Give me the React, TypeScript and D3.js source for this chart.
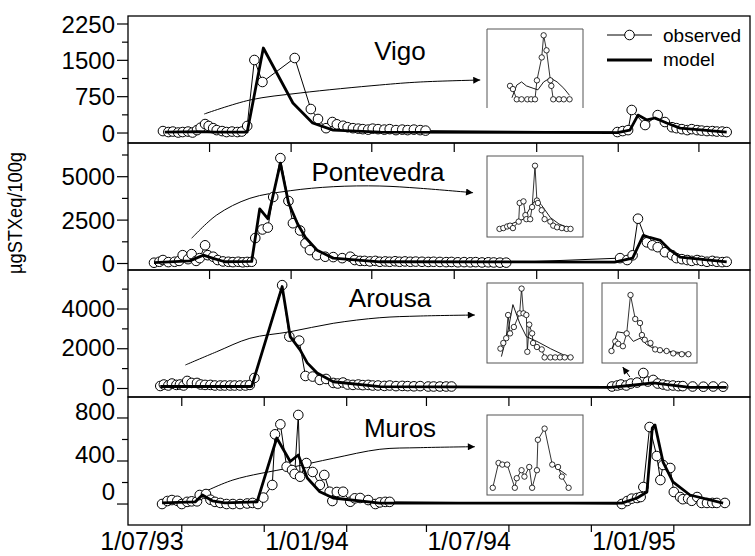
import React, { useEffect, useRef } from 'react';
import * as d3 from 'd3';

type Obs = [string, number];
type Rel = [number, number];

// ---- data (dates of sampling, µgSTXeq/100g) ----
const vigoObserved: Obs[] = [
  ['1993-07-11', 40], ['1993-07-17', 20], ['1993-07-22', 30], ['1993-07-28', 10], ['1993-08-02', 20],
  ['1993-08-08', 30], ['1993-08-13', 10], ['1993-08-18', 60], ['1993-08-22', 110], ['1993-08-27', 185],
  ['1993-08-31', 145], ['1993-09-05', 100], ['1993-09-09', 60], ['1993-09-15', 40], ['1993-09-20', 20],
  ['1993-09-26', 30], ['1993-10-02', 20], ['1993-10-07', 30], ['1993-10-13', 145], ['1993-10-21', 1507],
  ['1993-10-30', 1053], ['1993-12-05', 1548], ['1993-12-23', 495], ['1993-12-31', 290], ['1994-01-09', 100],
  ['1994-01-16', 227], ['1994-01-21', 180], ['1994-01-28', 150], ['1994-02-02', 120], ['1994-02-08', 100],
  ['1994-02-14', 90], ['1994-02-19', 80], ['1994-02-25', 70], ['1994-03-02', 90], ['1994-03-08', 80],
  ['1994-03-15', 70], ['1994-03-21', 80], ['1994-03-28', 60], ['1994-04-04', 70], ['1994-04-10', 60],
  ['1994-04-17', 70], ['1994-04-24', 60], ['1994-04-30', 50],
  ['1994-11-30', 20], ['1994-12-06', 40], ['1994-12-12', 60], ['1994-12-16', 475], ['1994-12-31', 165],
  ['1995-01-14', 370], ['1995-01-22', 227], ['1995-01-30', 120], ['1995-02-04', 100], ['1995-02-10', 80],
  ['1995-02-16', 60], ['1995-02-21', 80], ['1995-02-27', 60], ['1995-03-04', 50], ['1995-03-10', 40],
  ['1995-03-16', 40], ['1995-03-21', 30], ['1995-03-27', 30], ['1995-04-01', 20],
];
const vigoModel: Obs[] = [
  ['1993-07-13', 20], ['1993-08-21', 30], ['1993-09-07', 20], ['1993-10-13', 20], ['1993-10-31', 1754],
  ['1993-12-03', 620], ['1993-12-25', 206], ['1994-01-17', 60], ['1994-03-10', 20], ['1994-11-30', 10],
  ['1994-12-14', 60], ['1994-12-23', 370], ['1995-01-02', 270], ['1995-01-11', 310], ['1995-01-24', 206],
  ['1995-02-08', 100], ['1995-04-01', 20],
];

const pontevedraObserved: Obs[] = [
  ['1993-07-01', 45], ['1993-07-07', 100], ['1993-07-11', 200], ['1993-07-17', 80], ['1993-07-24', 100],
  ['1993-07-29', 150], ['1993-08-02', 480], ['1993-08-08', 250], ['1993-08-12', 540], ['1993-08-17', 150],
  ['1993-08-21', 310], ['1993-08-27', 1050], ['1993-08-30', 480], ['1993-09-05', 390], ['1993-09-10', 200],
  ['1993-09-16', 120], ['1993-09-22', 100], ['1993-09-27', 80], ['1993-10-03', 100], ['1993-10-08', 70],
  ['1993-10-13', 90], ['1993-10-18', 100], ['1993-10-22', 1466], ['1993-10-30', 1960], ['1993-11-05', 2070],
  ['1993-11-11', 3830], ['1993-11-19', 6070], ['1993-11-28', 3600], ['1993-12-03', 2320], ['1993-12-11', 1900],
  ['1993-12-17', 1160], ['1993-12-22', 770], ['1993-12-30', 480], ['1994-01-08', 390], ['1994-01-17', 370],
  ['1994-01-27', 310], ['1994-02-05', 390], ['1994-02-10', 200], ['1994-02-16', 150], ['1994-02-21', 150],
  ['1994-02-27', 120], ['1994-03-05', 150], ['1994-03-10', 100], ['1994-03-16', 120], ['1994-03-21', 100],
  ['1994-03-27', 130], ['1994-04-01', 100], ['1994-04-07', 120], ['1994-04-13', 100], ['1994-04-19', 110],
  ['1994-04-26', 100], ['1994-05-03', 90], ['1994-05-09', 100], ['1994-05-16', 90], ['1994-05-23', 80],
  ['1994-05-29', 90], ['1994-06-05', 70], ['1994-06-12', 80], ['1994-06-19', 70], ['1994-06-25', 80],
  ['1994-07-02', 60], ['1994-07-09', 70], ['1994-07-15', 60], ['1994-07-22', 50], ['1994-07-29', 50],
  ['1994-12-03', 310], ['1994-12-11', 200], ['1994-12-17', 470], ['1994-12-23', 2580], ['1995-01-02', 1220],
  ['1995-01-08', 1050], ['1995-01-14', 940], ['1995-01-22', 650], ['1995-01-30', 480], ['1995-02-04', 310],
  ['1995-02-10', 250], ['1995-02-16', 200], ['1995-02-21', 150], ['1995-02-27', 200], ['1995-03-04', 150],
  ['1995-03-10', 100], ['1995-03-16', 150], ['1995-03-21', 100], ['1995-03-27', 80], ['1995-04-01', 100],
];
const pontevedraModel: Obs[] = [
  ['1993-07-01', 50], ['1993-08-10', 150], ['1993-08-25', 480], ['1993-09-05', 300], ['1993-09-18', 100],
  ['1993-10-18', 120], ['1993-10-27', 3150], ['1993-11-05', 2580], ['1993-11-19', 5780], ['1993-11-28', 3510],
  ['1993-12-08', 2300], ['1993-12-17', 1500], ['1993-12-30', 770], ['1994-01-17', 310], ['1994-03-10', 100],
  ['1994-11-27', 80], ['1994-12-03', 150], ['1994-12-17', 310], ['1994-12-29', 1620], ['1995-01-05', 1500],
  ['1995-01-17', 1330], ['1995-01-28', 770], ['1995-02-08', 370], ['1995-04-01', 100],
];

const arousaObserved: Obs[] = [
  ['1993-07-08', 126], ['1993-07-12', 200], ['1993-07-17', 150], ['1993-07-21', 250], ['1993-07-26', 180],
  ['1993-07-30', 200], ['1993-08-03', 150], ['1993-08-07', 380], ['1993-08-12', 280], ['1993-08-18', 280],
  ['1993-08-22', 200], ['1993-08-27', 180], ['1993-09-02', 180], ['1993-09-07', 150], ['1993-09-13', 150],
  ['1993-09-18', 150], ['1993-09-24', 150], ['1993-09-29', 150], ['1993-10-05', 150], ['1993-10-11', 150],
  ['1993-10-16', 180], ['1993-10-21', 530], ['1993-11-21', 5200], ['1993-11-29', 2610], ['1993-12-10', 2410],
  ['1993-12-17', 630], ['1993-12-25', 600], ['1994-01-02', 430], ['1994-01-09', 480], ['1994-01-17', 280],
  ['1994-01-22', 250], ['1994-01-28', 300], ['1994-02-02', 200], ['1994-02-08', 180], ['1994-02-14', 200],
  ['1994-02-19', 170], ['1994-02-25', 180], ['1994-03-02', 150], ['1994-03-08', 150], ['1994-03-15', 130],
  ['1994-03-21', 150], ['1994-03-28', 120], ['1994-04-04', 130], ['1994-04-10', 120], ['1994-04-17', 110],
  ['1994-04-24', 120], ['1994-05-03', 100], ['1994-05-09', 100], ['1994-05-16', 100], ['1994-05-23', 100],
  ['1994-05-29', 100],
  ['1994-11-24', 100], ['1994-11-30', 150], ['1994-12-04', 200], ['1994-12-10', 150], ['1994-12-15', 250],
  ['1994-12-22', 300], ['1994-12-29', 780], ['1995-01-03', 350], ['1995-01-09', 430], ['1995-01-14', 250],
  ['1995-01-20', 200], ['1995-01-25', 150], ['1995-01-31', 150], ['1995-02-06', 120], ['1995-02-11', 120],
  ['1995-02-22', 100], ['1995-03-06', 90], ['1995-03-17', 100], ['1995-03-28', 90],
];
const arousaModel: Obs[] = [
  ['1993-07-08', 100], ['1993-10-16', 100], ['1993-10-18', 110], ['1993-11-21', 5130], ['1993-11-30', 2610],
  ['1993-12-11', 1940], ['1993-12-19', 1290], ['1993-12-30', 780], ['1994-01-17', 340], ['1994-03-10', 90],
  ['1994-11-22', 60], ['1994-12-14', 150], ['1995-01-09', 280], ['1995-02-19', 60], ['1995-04-01', 60],
];

const murosObserved: Obs[] = [
  ['1993-07-10', 0], ['1993-07-16', 28], ['1993-07-21', 37], ['1993-07-27', 30], ['1993-08-01', 0],
  ['1993-08-07', 20], ['1993-08-12', 25], ['1993-08-18', 25], ['1993-08-21', 84], ['1993-08-28', 93],
  ['1993-09-02', 40], ['1993-09-07', 20], ['1993-09-13', 10], ['1993-09-20', 0], ['1993-09-27', 0],
  ['1993-10-05', 0], ['1993-10-13', 5], ['1993-10-19', 10], ['1993-10-25', 0], ['1993-10-31', 60],
  ['1993-11-10', 177], ['1993-11-13', 648], ['1993-11-19', 741], ['1993-11-26', 347], ['1993-12-02', 316],
  ['1993-12-05', 280], ['1993-12-09', 828], ['1993-12-11', 254], ['1993-12-18', 381], ['1993-12-25', 298],
  ['1994-01-02', 177], ['1994-01-07', 270], ['1994-01-13', 114], ['1994-01-16', 28], ['1994-01-21', 112],
  ['1994-01-28', 114], ['1994-02-05', 21], ['1994-02-10', 53], ['1994-02-16', 56], ['1994-02-25', 37],
  ['1994-03-05', 0], ['1994-03-10', 15], ['1994-03-16', 20], ['1994-03-21', 20],
  ['1994-12-05', 0], ['1994-12-11', 28], ['1994-12-16', 50], ['1994-12-22', 56], ['1994-12-26', 65],
  ['1994-12-29', 158], ['1995-01-05', 716], ['1995-01-13', 446], ['1995-01-17', 223], ['1995-01-20', 363],
  ['1995-01-28', 335], ['1995-02-01', 112], ['1995-02-08', 65], ['1995-02-11', 45], ['1995-02-17', 50],
  ['1995-02-21', 30], ['1995-02-27', 65], ['1995-03-04', 10], ['1995-03-10', 10], ['1995-03-16', 10],
  ['1995-03-21', 10], ['1995-03-30', 10],
];
const murosModel: Obs[] = [
  ['1993-07-10', 10], ['1993-08-16', 20], ['1993-08-24', 84], ['1993-09-04', 30], ['1993-09-18', 10],
  ['1993-10-24', 20], ['1993-11-15', 614], ['1993-11-30', 395], ['1993-12-09', 456], ['1993-12-19', 242],
  ['1994-01-02', 114], ['1994-01-17', 56], ['1994-03-10', 9], ['1994-12-05', 9], ['1994-12-22', 56],
  ['1995-01-02', 112], ['1995-01-08', 707], ['1995-01-11', 735], ['1995-01-20', 390], ['1995-01-31', 205],
  ['1995-02-19', 84], ['1995-03-28', 9],
];

// insets: relative time (0-100) and relative toxicity (0-100)
const vigoInsetObserved: Rel[] = [
  [24, 28], [27, 24], [31, 11], [36, 11], [42, 11], [46, 11], [50, 11], [52, 35], [57, 64], [59, 92],
  [62, 73], [66, 35], [67, 28], [69, 11], [75, 11], [80, 11], [86, 11],
];
const vigoInsetModel: Rel[] = [
  [26, 13], [31, 29], [36, 33], [41, 28], [48, 25], [53, 23], [59, 33], [66, 38], [73, 33], [80, 25], [86, 16],
];
const pontevedraInsetObserved: Rel[] = [
  [13, 10], [17, 11], [21, 13], [24, 14], [27, 11], [33, 19], [34, 42], [38, 44], [40, 27], [41, 22],
  [45, 22], [47, 37], [50, 88], [52, 45], [53, 42], [57, 33], [60, 22], [66, 19], [69, 14], [73, 12],
  [78, 11], [83, 10], [87, 10],
];
const pontevedraInsetModel: Rel[] = [
  [13, 9], [27, 17], [38, 22], [46, 38], [51, 47], [57, 39], [66, 24], [75, 16], [86, 11],
];
const arousaInsetObserved: Rel[] = [
  [14, 18], [17, 25], [20, 31], [22, 60], [24, 37], [28, 45], [34, 62], [36, 93], [38, 62], [41, 60],
  [42, 14], [44, 48], [47, 37], [48, 25], [52, 20], [57, 17], [60, 7], [66, 7], [71, 7], [76, 7], [81, 7], [87, 7],
];
const arousaInsetModel: Rel[] = [
  [15, 8], [22, 41], [27, 73], [34, 50], [41, 33], [52, 27], [66, 18], [80, 10], [90, 7],
];
const arousaInset2Observed: Rel[] = [
  [10, 15], [14, 27], [17, 24], [22, 21], [26, 37], [30, 85], [35, 55], [40, 50], [42, 35], [45, 29],
  [51, 25], [56, 17], [61, 16], [68, 15], [75, 12], [84, 11], [91, 11],
];
const arousaInset2Model: Rel[] = [
  [10, 15], [16, 39], [26, 37], [33, 27], [40, 31], [47, 23], [58, 16], [91, 12],
];
const murosInsetObserved: Rel[] = [
  [6, 9], [12, 40], [16, 38], [21, 38], [29, 9], [31, 21], [36, 31], [39, 23], [44, 35], [47, 9],
  [52, 31], [53, 69], [60, 83], [68, 38], [74, 35], [78, 23], [85, 9],
];
const murosInsetModel: Rel[] = [[68, 38], [83, 25]];

// arrows pointing from the early event to its inset
const vigoArrow: Obs[] = [
  ['1993-08-26', 392], ['1993-10-16', 681], ['1993-12-11', 826], ['1994-03-10', 991], ['1994-04-24', 1053], ['1994-06-30', 1094],
];
const pontevedraArrow: Obs[] = [
  ['1993-08-12', 1452], ['1993-09-09', 2794], ['1993-10-16', 3756], ['1993-11-30', 4193], ['1994-01-17', 4424],
  ['1994-03-10', 4464], ['1994-04-24', 4332], ['1994-06-22', 4078],
];
const arousaArrow: Obs[] = [
  ['1993-08-05', 1182], ['1993-09-09', 1851], ['1993-10-16', 2525], ['1993-11-30', 2857], ['1994-01-17', 3280],
  ['1994-03-10', 3561], ['1994-04-24', 3647], ['1994-06-24', 3697],
];
const arousaArrow2: Obs[] = [['1994-12-14', 578], ['1994-12-06', 1081]];
const murosArrow: Obs[] = [
  ['1993-08-19', 84], ['1993-09-27', 223], ['1993-11-30', 338], ['1994-01-17', 425], ['1994-03-10', 509],
  ['1994-04-24', 524], ['1994-06-24', 533],
];

const dateLabels = ['1993-07-01', '1994-01-01', '1994-07-01', '1995-01-01'];
const dateLabelText = ['1/07/93', '1/01/94', '1/07/94', '1/01/95'];

const vigoTicks = [0, 750, 1500, 2250];
const vigoMinor = [375, 1125, 1875];
const pontevedraTicks = [0, 2500, 5000];
const pontevedraMinor = [1250, 3750, 6250];
const arousaTicks = [0, 2000, 4000];
const arousaMinor = [1000, 3000, 5000];
const murosTicks = [800, 400, 0];
const murosMinor = [200, 600];

// ---- layout ----
const W = 755;
const H = 556;
const left = 128;
const right = 750;
const FONT = "'Liberation Sans', Arial, Helvetica, sans-serif";

const parse = d3.timeParse('%Y-%m-%d');
const pd = (s: string) => parse(s) as Date;

const ticksA = d3.timeMonth.range(new Date(1993, 8, 1), new Date(1995, 3, 2), 3);
const ticksB = d3.timeMonth.range(new Date(1993, 7, 1), new Date(1995, 2, 2), 3);

const panels = [
  {
    name: 'Vigo', observed: vigoObserved, model: vigoModel, top: 16, bottom: 143, domain: [-206, 2415],
    ticks: vigoTicks, minor: vigoMinor, labelShift: 0, topTicks: [] as Date[], title: [400, 60],
    insets: [{ box: [487, 29, 583, 108], obs: vigoInsetObserved, mod: vigoInsetModel, open: true }],
    arrows: [vigoArrow],
  },
  {
    name: 'Pontevedra', observed: pontevedraObserved, model: pontevedraModel, top: 143, bottom: 270, domain: [-374, 6941],
    ticks: pontevedraTicks, minor: pontevedraMinor, labelShift: 0, topTicks: ticksA, title: [378, 181],
    insets: [{ box: [487, 156, 583, 237], obs: pontevedraInsetObserved, mod: pontevedraInsetModel, open: false }],
    arrows: [pontevedraArrow],
  },
  {
    name: 'Arousa', observed: arousaObserved, model: arousaModel, top: 270, bottom: 397, domain: [-428, 5962],
    ticks: arousaTicks, minor: arousaMinor, labelShift: -1, topTicks: ticksA, title: [390, 307],
    insets: [
      { box: [487, 283, 583, 363], obs: arousaInsetObserved, mod: arousaInsetModel, open: false },
      { box: [602, 283, 697, 363], obs: arousaInset2Observed, mod: arousaInset2Model, open: false },
    ],
    arrows: [arousaArrow, arousaArrow2],
  },
  {
    name: 'Muros', observed: murosObserved, model: murosModel, top: 397, bottom: 525, domain: [-195, 995],
    ticks: murosTicks, minor: murosMinor, labelShift: -7, topTicks: ticksB, title: [400, 437],
    insets: [{ box: [487, 415, 583, 495], obs: murosInsetObserved, mod: murosInsetModel, open: false }],
    arrows: [murosArrow],
  },
];

export default function App() {
  const ref = useRef<SVGSVGElement | null>(null);

  useEffect(() => {
    if (!ref.current) return;
    const svg = d3.select(ref.current);
    svg.selectAll('*').remove();

    const defs = svg.append('defs');
    defs.append('marker')
      .attr('id', 'arrowhead').attr('viewBox', '0 0 10 10').attr('refX', 10).attr('refY', 5)
      .attr('markerUnits', 'userSpaceOnUse').attr('markerWidth', 12).attr('markerHeight', 7)
      .attr('orient', 'auto')
      .append('path').attr('d', 'M0,0L10,5L0,10z').attr('fill', '#000');

    svg.append('rect').attr('width', W).attr('height', H).attr('fill', '#fff');

    const x = d3.scaleTime().domain([pd('1993-06-02'), pd('1995-04-27')]).range([left, right]);

    panels.forEach((p) => {
      const y = d3.scaleLinear().domain(p.domain).range([p.bottom, p.top]);
      const g = svg.append('g');

      // frame
      g.append('rect').attr('x', left).attr('y', p.top).attr('width', right - left).attr('height', p.bottom - p.top)
        .attr('fill', 'none').attr('stroke', '#000').attr('stroke-width', 1.3);

      // y ticks
      g.selectAll('.maj').data(p.ticks).join('line')
        .attr('x1', left - 11).attr('x2', left).attr('y1', (d) => y(d)).attr('y2', (d) => y(d))
        .attr('stroke', '#000').attr('stroke-width', 1.2);
      g.selectAll('.min').data(p.minor).join('line')
        .attr('x1', left - 6).attr('x2', left).attr('y1', (d) => y(d)).attr('y2', (d) => y(d))
        .attr('stroke', '#000').attr('stroke-width', 1.2);
      g.selectAll('.lab').data(p.ticks).join('text')
        .attr('x', 115).attr('y', (d) => y(d) + p.labelShift - (p.name === 'Muros' && d === 0 ? 6 : 0))
        .attr('dy', '0.36em').attr('text-anchor', 'end')
        .style('font-family', FONT).style('font-size', '24px').text((d) => String(d));

      // top inward date ticks
      g.selectAll('.tt').data(p.topTicks).join('line')
        .attr('x1', (d) => x(d)).attr('x2', (d) => x(d)).attr('y1', p.top).attr('y2', p.top + 9)
        .attr('stroke', '#000').attr('stroke-width', 1.2);

      const line = d3.line<Obs>().x((d) => x(pd(d[0]))).y((d) => y(d[1]));

      // arrows
      p.arrows.forEach((a) => {
        const curve = d3.line<Obs>().x((d) => x(pd(d[0]))).y((d) => y(d[1])).curve(d3.curveCatmullRom);
        g.append('path').attr('d', curve(a)).attr('fill', 'none').attr('stroke', '#000').attr('stroke-width', 1)
          .attr('marker-end', 'url(#arrowhead)');
      });

      // observed
      g.append('path').attr('d', line(p.observed)).attr('fill', 'none').attr('stroke', '#000').attr('stroke-width', 1);
      g.selectAll('.obs').data(p.observed).join('circle')
        .attr('cx', (d) => x(pd(d[0]))).attr('cy', (d) => y(d[1])).attr('r', 4.8)
        .attr('fill', '#fff').attr('stroke', '#000').attr('stroke-width', 1);

      // model
      g.append('path').attr('d', line(p.model)).attr('fill', 'none').attr('stroke', '#000')
        .attr('stroke-width', 2.8).attr('stroke-linejoin', 'round');

      // title
      g.append('text').attr('x', p.title[0]).attr('y', p.title[1]).attr('text-anchor', 'middle')
        .style('font-family', FONT).style('font-size', '26px').text(p.name);

      // insets
      p.insets.forEach((ins) => {
        const [l, t, r, b] = ins.box;
        const ix = d3.scaleLinear().domain([0, 100]).range([l, r]);
        const iy = d3.scaleLinear().domain([0, 100]).range([b, t]);
        const ig = g.append('g');
        ig.append('rect').attr('x', l).attr('y', t).attr('width', r - l).attr('height', b - t).attr('fill', '#fff');
        if (ins.open) {
          ig.append('path').attr('d', `M${l},${b}V${t}H${r}V${b}`).attr('fill', 'none').attr('stroke', '#555').attr('stroke-width', 1);
        } else {
          ig.append('rect').attr('x', l).attr('y', t).attr('width', r - l).attr('height', b - t)
            .attr('fill', 'none').attr('stroke', '#555').attr('stroke-width', 1);
        }
        const il = d3.line<Rel>().x((d) => ix(d[0])).y((d) => iy(d[1]));
        ig.append('path').attr('d', il(ins.mod)).attr('fill', 'none').attr('stroke', '#000').attr('stroke-width', 0.9);
        ig.append('path').attr('d', il(ins.obs)).attr('fill', 'none').attr('stroke', '#000').attr('stroke-width', 0.8);
        ig.selectAll('circle').data(ins.obs).join('circle')
          .attr('cx', (d) => ix(d[0])).attr('cy', (d) => iy(d[1])).attr('r', 2.7)
          .attr('fill', '#fff').attr('stroke', '#000').attr('stroke-width', 0.8);
      });
    });

    // bottom axis
    const bottom = panels[panels.length - 1].bottom;
    svg.selectAll('.bt').data(ticksB).join('line')
      .attr('x1', (d) => x(d)).attr('x2', (d) => x(d)).attr('y1', bottom).attr('y2', bottom + 7)
      .attr('stroke', '#000').attr('stroke-width', 1.2);
    svg.selectAll('.bl').data(dateLabels).join('text')
      .attr('x', (d) => x(pd(d)) - 12).attr('y', 550).attr('text-anchor', 'middle')
      .style('font-family', FONT).style('font-size', '25px')
      .text((d, i) => dateLabelText[i]);

    // y title
    svg.append('text').attr('transform', 'translate(22,213) rotate(-90)').attr('text-anchor', 'middle')
      .attr('textLength', 122).attr('lengthAdjust', 'spacingAndGlyphs')
      .style('font-family', FONT).style('font-size', '21px').text('µgSTXeq/100g');

    // legend
    const lg = svg.append('g');
    lg.append('line').attr('x1', 607).attr('x2', 652).attr('y1', 35).attr('y2', 35).attr('stroke', '#000').attr('stroke-width', 1);
    lg.append('circle').attr('cx', 629.5).attr('cy', 35).attr('r', 4.8).attr('fill', '#fff').attr('stroke', '#000');
    lg.append('text').attr('x', 663).attr('y', 42).style('font-family', FONT).style('font-size', '19px').text('observed');
    lg.append('line').attr('x1', 607).attr('x2', 652).attr('y1', 60).attr('y2', 60).attr('stroke', '#000').attr('stroke-width', 2.8);
    lg.append('text').attr('x', 663).attr('y', 66).style('font-family', FONT).style('font-size', '19px').text('model');
  }, []);

  return (
    <svg ref={ref} width={W} height={H} style={{ position: 'absolute', left: 0, top: 0, display: 'block' }} />
  );
}
